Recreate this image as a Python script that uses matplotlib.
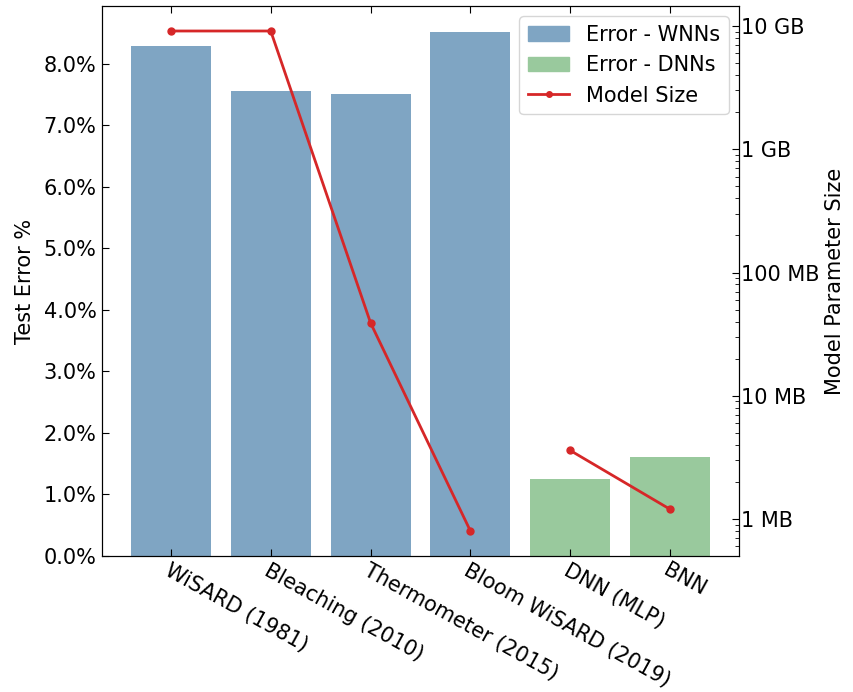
import matplotlib
matplotlib.use("Agg")
import matplotlib.pyplot as plt
from matplotlib.ticker import FuncFormatter
from matplotlib.patches import Patch
from matplotlib.lines import Line2D

categories = ["WiSARD (1981)", "Bleaching (2010)", "Thermometer (2015)",
              "Bloom WiSARD (2019)", "DNN (MLP)", "BNN"]
test_error = [8.29, 7.55, 7.50, 8.51, 1.25, 1.61]
is_wnn = [True, True, True, True, False, False]
model_size_bytes = [9.1e9, 9.1e9, 3.9e7, 8.0e5, 3.6e6, 1.2e6]
size_ticks = [1e6, 1e7, 1e8, 1e9, 1e10]
size_tick_labels = ["1 MB", "10 MB", "100 MB", "1 GB", "10 GB"]

wnn_color = "#7fa5c3"
dnn_color = "#99c99d"
line_color = "#d62728"
FS = 15

plt.rcParams['font.family'] = ['DejaVu Sans']
fig = plt.figure(figsize=(8.54, 6.92), dpi=100)
ax = fig.add_axes([102/854, 1-556/692, (739-102)/854, (556-6)/692])

x = list(range(len(categories)))
colors = [wnn_color if w else dnn_color for w in is_wnn]
ax.bar(x, test_error, width=0.8, color=colors)
ax.yaxis.set_major_formatter(FuncFormatter(lambda v, p: f"{v:.1f}%"))
ax.set_ylabel("Test Error %", fontsize=FS, labelpad=6)
ax.set_xticks(x)
ax.set_xticklabels(categories, rotation=-29, ha='left', rotation_mode='anchor', fontsize=FS)
ax.tick_params(axis='y', direction='in', labelsize=FS, length=5, pad=4)
ax.tick_params(axis='x', direction='in', top=True, length=5, pad=3)

ax2 = ax.twinx()
wnn_x = [xi for xi, w in zip(x, is_wnn) if w]
wnn_s = [s for s, w in zip(model_size_bytes, is_wnn) if w]
dnn_x = [xi for xi, w in zip(x, is_wnn) if not w]
dnn_s = [s for s, w in zip(model_size_bytes, is_wnn) if not w]
ax2.plot(wnn_x, wnn_s, color=line_color, marker='o', markersize=5, linewidth=2)
ax2.plot(dnn_x, dnn_s, color=line_color, marker='o', markersize=5, linewidth=2)
ax2.set_yscale('log')
ax2.set_yticks(size_ticks)
ax2.set_yticklabels(size_tick_labels)
ax2.tick_params(axis='y', which='both', direction='in', labelsize=FS, pad=1.5)
ax2.tick_params(axis='y', which='major', length=5)
ax2.tick_params(axis='y', which='minor', length=3)
ax2.set_ylabel("Model Parameter Size", fontsize=FS, labelpad=4)

handles = [Patch(color=wnn_color, label="Error - WNNs"),
           Patch(color=dnn_color, label="Error - DNNs"),
           Line2D([], [], color=line_color, marker='o', markersize=4, linewidth=2, label="Model Size")]
ax2.legend(handles=handles, loc='upper right', fontsize=FS)

fig.savefig("out.png", dpi=100)
